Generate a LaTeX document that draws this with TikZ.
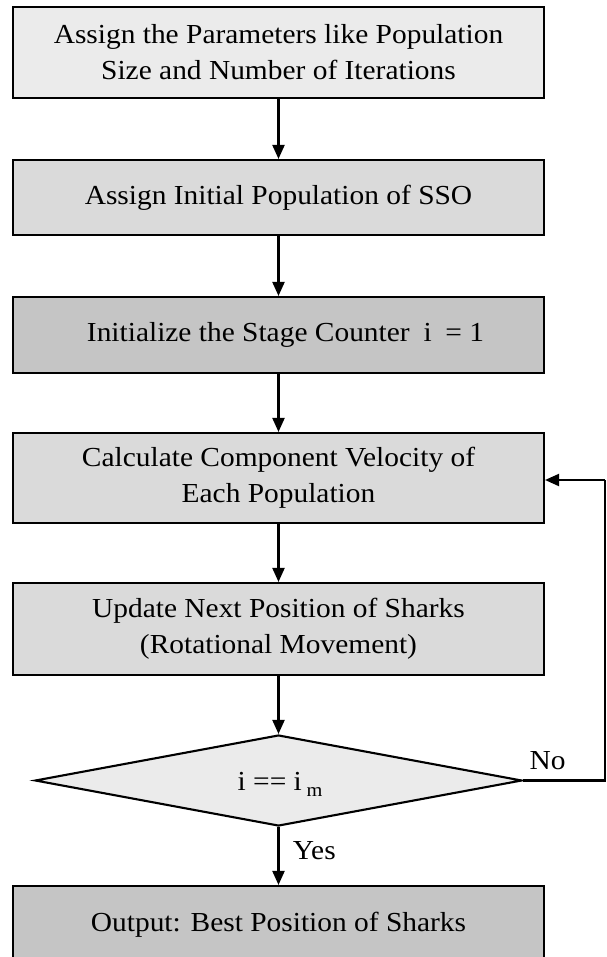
\documentclass[tikz,border=0pt]{standalone}
\usepackage{fontspec}
\setmainfont{Liberation Serif}[FakeStretch=1.07]
\usetikzlibrary{arrows.meta,shapes.geometric}
\definecolor{fillA}{HTML}{EBEBEB}
\definecolor{fillB}{HTML}{DADADA}
\definecolor{fillC}{HTML}{C5C5C5}
\begin{document}
\begin{tikzpicture}[x=1pt,y=1pt,
  every node/.style={font=\fontsize{27.5}{36}\selectfont},
  box/.style={draw=black,line width=2.1pt,minimum width=531pt,align=center,inner sep=0pt},
  arr/.style={line width=2.1pt,-{Triangle[width=12pt,length=14pt]}},
  ln/.style={line width=2.1pt}]
\useasboundingbox (0,0) rectangle (606,-957);
\node[box,fill=fillA,minimum height=91pt] (b1) at (278.5,-52.5) {Assign the Parameters like Population\\Size and Number of Iterations};
\node[box,fill=fillB,minimum height=75pt] (b2) at (278.5,-197.5) {Assign Initial Population of SSO};
\node[box,fill=fillC,minimum height=76pt] (b3) at (278.5,-335) {\hspace{14pt}Initialize the Stage Counter\enspace i\enspace = 1};
\node[box,fill=fillB,minimum height=90pt] (b4) at (278.5,-478) {Calculate Component Velocity of\\Each Population};
\node[box,fill=fillB,minimum height=92pt] (b5) at (278.5,-629) {Update Next Position of Sharks\\(Rotational Movement)};
\node[diamond,draw=black,line width=2.1pt,fill=fillA,aspect=5.35,minimum width=487pt,minimum height=91pt,inner sep=0pt] (d) at (278.5,-780.5) {};
\node (dt) at (280,-784) {i == i\,\raisebox{-6pt}{\fontsize{19}{19}\selectfont m}};
\node[box,fill=fillC,minimum height=78pt] (out) at (278.5,-925) {Output: Best Position of Sharks};
\coordinate (c1) at (605,-780.5);
\coordinate (c2) at (605,-480);
\draw[arr] (b1) -- (b2);
\draw[arr] (b2) -- (b3);
\draw[arr] (b3) -- (b4);
\draw[arr] (b4) -- (b5);
\draw[arr] (b5) -- (d);
\draw[arr] (d) -- node[right=10pt,pos=0.4] (yes) {Yes} (out);
\draw[ln] (d.east) -- node[above=6pt,pos=0.3] (no) {No} (c1) -- (c2);
\draw[arr] (c2) -- (b4.east |- c2);
\end{tikzpicture}
\end{document}
